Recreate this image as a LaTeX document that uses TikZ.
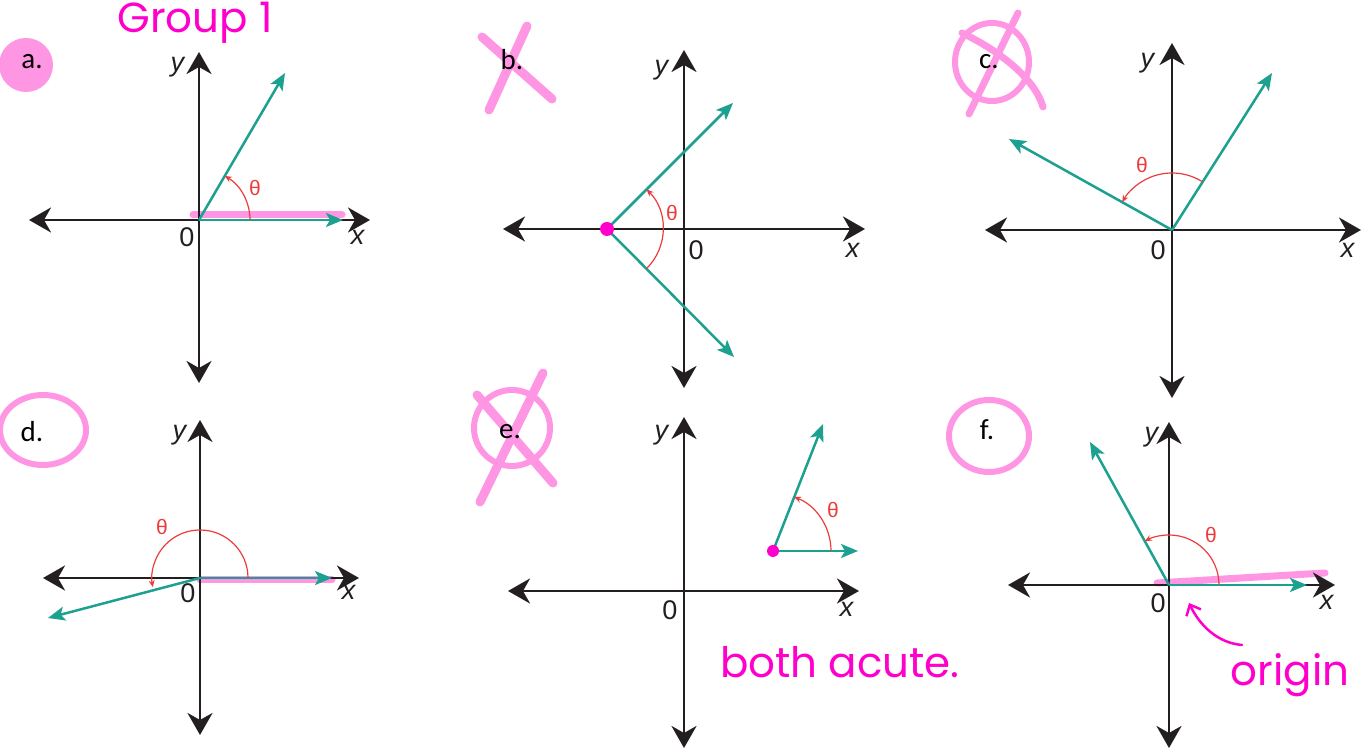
\documentclass[tikz,border=0pt]{standalone}
\usepackage{fontspec}
\setmainfont{Liberation Sans}
\newfontfamily\calib{Carlito}
\newfontfamily\hand{Poppins}
\usetikzlibrary{arrows.meta}
\definecolor{axisblack}{RGB}{35,31,32}
\definecolor{rayteal}{RGB}{28,160,143}
\definecolor{arcred}{RGB}{236,60,60}
\definecolor{marker}{RGB}{255,150,228}
\definecolor{inkpink}{RGB}{255,0,204}
\begin{document}
\begin{tikzpicture}[x=1pt,y=1pt,
  axis/.style={line width=2.8pt,draw=axisblack,
    {Stealth[length=22pt,width=25pt,inset=7pt]}-{Stealth[length=22pt,width=25pt,inset=7pt]}},
  ray/.style={line width=2.5pt,draw=rayteal,-{Stealth[length=17pt,width=14pt,inset=4pt]}},
  turn/.style={line width=1.2pt,draw=arcred,-{Stealth[length=7pt,width=6pt]}},
  lab/.style={font=\fontsize{27}{29}\selectfont,text=axisblack,inner sep=0pt},
  th/.style={font=\fontsize{21}{23}\selectfont,text=arcred,inner sep=0pt},
  part/.style={font=\calib\fontsize{29}{31}\selectfont,inner sep=0pt},
  hl/.style={line width=7pt,draw=marker,line cap=round},
  cross/.style={line width=9pt,draw=marker,line cap=round},
  ink/.style={line width=2.5pt,draw=inkpink,line cap=round},
  note/.style={font=\hand\fontsize{42}{44}\selectfont,text=inkpink,inner sep=0pt}]
  \useasboundingbox[fill=white] (0,0) rectangle (1371,751);

  % a.
  \fill[marker] (26,686) circle (27);
  \node[part] (a) at (32,689) {a.};
  \node[note] (group) at (195,728) {Group 1};
  \coordinate (aO) at (199,531);
  \coordinate (aL) at (29,531);  \coordinate (aR) at (370,531);
  \coordinate (aB) at (199,368); \coordinate (aT) at (199,699);
  \coordinate (aP) at (285,678); \coordinate (aQ) at (343,531);
  \draw[hl] (193,536) -- (342,536);
  \draw[axis] (aL) -- (aR);
  \draw[axis] (aB) -- (aT);
  \draw[ray] (aO) -- (aQ);
  \draw[ray] (aO) -- (aP);
  \draw[turn] ([shift={(0:51)}]aO) arc[start angle=0,end angle=59.7,radius=51];
  \node[th] (ath) at (255,563) {θ};
  \node[lab] (ay) at (178,684) {\textit{y}};
  \node[lab] (ax) at (358,514) {\textit{x}};
  \node[lab] (a0) at (187,514) {0};

  % b.
  \draw[cross] (482,714) -- (552,652);
  \draw[cross] (527,725) -- (489,641);
  \node[part] (b) at (512,691) {b.};
  \coordinate (bO) at (684,522);
  \coordinate (bL) at (503,522); \coordinate (bR) at (865,522);
  \coordinate (bB) at (684,363); \coordinate (bT) at (684,701);
  \coordinate (bV) at (607,522);
  \coordinate (bP) at (733,648); \coordinate (bQ) at (734,394);
  \draw[axis] (bL) -- (bR);
  \draw[axis] (bB) -- (bT);
  \draw[ray] (bV) -- (bP);
  \draw[ray] (bV) -- (bQ);
  \draw[turn] ([shift={(-45:56)}]bV) arc[start angle=-45,end angle=45,radius=56];
  \fill[inkpink] (bV) circle (7);
  \node[th] (bth) at (672,538) {θ};
  \node[lab] (by) at (662,681) {\textit{y}};
  \node[lab] (bx) at (853,501) {\textit{x}};
  \node[lab] (b0) at (696,501) {0};

  % c.
  \draw[hl,line width=6pt] (992,689) ellipse[x radius=37,y radius=39];
  \draw[cross,line width=7pt] (1018,738) -- (969,637);
  \draw[cross,line width=7pt] (962,718) .. controls (1000,700) and (1035,672) .. (1043,644);
  \node[part] (c) at (989,689) {c.};
  \coordinate (cO) at (1172,521);
  \coordinate (cL) at (985,521);  \coordinate (cR) at (1361,521);
  \coordinate (cB) at (1172,353); \coordinate (cT) at (1172,708);
  \coordinate (cP) at (1272,678); \coordinate (cQ) at (1009,612);
  \draw[axis] (cL) -- (cR);
  \draw[axis] (cB) -- (cT);
  \draw[ray] (cO) -- (cP);
  \draw[ray] (cO) -- (cQ);
  \draw[turn] ([shift={(57.5:57)}]cO) arc[start angle=57.5,end angle=150.8,radius=57];
  \node[th] (cth) at (1142,586) {θ};
  \node[lab] (cy) at (1148,688) {\textit{y}};
  \node[lab] (cx) at (1348,501) {\textit{x}};
  \node[lab] (c0) at (1158,501) {0};

  % d.
  \draw[hl,line width=6pt] (43,321) ellipse[x radius=43,y radius=35];
  \node[part] (d) at (32,319) {d.};
  \coordinate (dO) at (200,173);
  \coordinate (dL) at (43,173);  \coordinate (dR) at (359,173);
  \coordinate (dB) at (200,16);  \coordinate (dT) at (200,331);
  \coordinate (dP) at (48,133);  \coordinate (dQ) at (332,173);
  \draw[hl] (200,171) -- (332,171);
  \draw[axis] (dL) -- (dR);
  \draw[axis] (dB) -- (dT);
  \draw[ray] (dO) -- (dQ);
  \draw[ray] (dO) -- (dP);
  \draw[turn] ([shift={(0:48)}]dO) arc[start angle=0,end angle=191,radius=48];
  \node[th] (dth) at (162,224) {θ};
  \node[lab] (dy) at (180,316) {\textit{y}};
  \node[lab] (dx) at (349,159) {\textit{x}};
  \node[lab] (d0) at (188,158) {0};

  % e.
  \draw[hl,line width=6pt] (512,323) circle (38);
  \draw[cross] (543,378) -- (480,249);
  \draw[cross] (477,356) -- (553,268);
  \node[part] (e) at (510,319) {e.};
  \coordinate (eO) at (684,160);
  \coordinate (eL) at (508,160); \coordinate (eR) at (859,160);
  \coordinate (eB) at (684,3);   \coordinate (eT) at (684,334);
  \coordinate (eV) at (773,200);
  \coordinate (eP) at (823,327); \coordinate (eQ) at (858,200);
  \draw[axis] (eL) -- (eR);
  \draw[axis] (eB) -- (eT);
  \draw[ray] (eV) -- (eQ);
  \draw[ray] (eV) -- (eP);
  \draw[turn] ([shift={(0:58)}]eV) arc[start angle=0,end angle=68.5,radius=58];
  \fill[inkpink] (eV) circle (6);
  \node[th] (eth) at (833,241) {θ};
  \node[lab] (ey) at (662,316) {\textit{y}};
  \node[lab] (ex) at (847,142) {\textit{x}};
  \node[lab] (e0) at (670,141) {0};
  \node[note] (acute) at (840,89) {both acute.};

  % f.
  \draw[hl,line width=6pt] (989,315) ellipse[x radius=40,y radius=36];
  \node[part] (f) at (987,321) {f.};
  \coordinate (fO) at (1169,166);
  \coordinate (fL) at (1008,166); \coordinate (fR) at (1335,166);
  \coordinate (fB) at (1169,3);   \coordinate (fT) at (1169,329);
  \coordinate (fP) at (1090,309); \coordinate (fQ) at (1307,166);
  \draw[hl] (1157,168) -- (1325,178);
  \draw[axis] (fL) -- (fR);
  \draw[axis] (fB) -- (fT);
  \draw[ray] (fO) -- (fQ);
  \draw[ray] (fO) -- (fP);
  \draw[turn] ([shift={(0:50)}]fO) arc[start angle=0,end angle=118.9,radius=50];
  \node[th] (fth) at (1211,216) {θ};
  \node[lab] (fy) at (1152,314) {\textit{y}};
  \node[lab] (fx) at (1327,149) {\textit{x}};
  \node[lab] (f0) at (1158,148) {0};
  \node[note] (origin) at (1290,76) {origin};
  \coordinate (fA) at (1242,106); \coordinate (fZ) at (1189,148);
  \draw[ink,-{Straight Barb[length=9pt,width=16pt]}] (fA) .. controls (1218,108) and (1200,125) .. (fZ);
\end{tikzpicture}
\end{document}
